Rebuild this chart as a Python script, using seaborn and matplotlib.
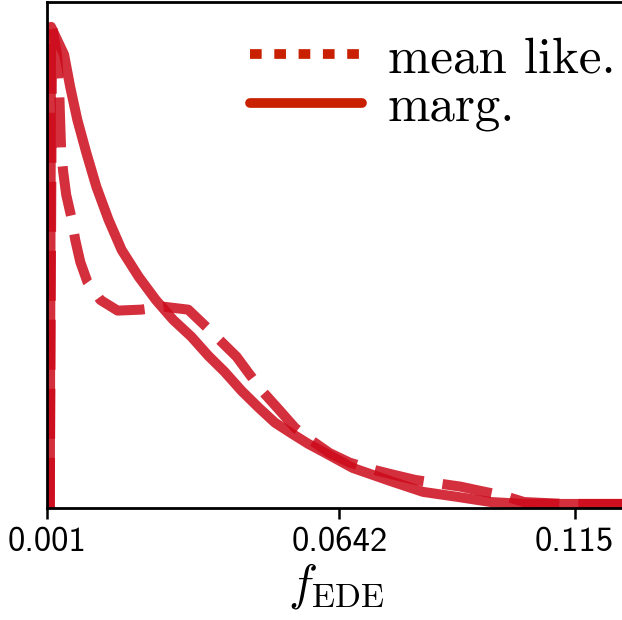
import numpy as np
import pandas as pd
import matplotlib
matplotlib.use("Agg")
import matplotlib.pyplot as plt
from matplotlib.lines import Line2D
import seaborn as sns

# ---- data (normalised to peak = 1) ----
marg_x = [0.0016, 0.00187, 0.00318, 0.00470, 0.00601, 0.00754, 0.00950, 0.01168,
          0.01429, 0.01713, 0.02083, 0.02453, 0.02824, 0.03216, 0.03587, 0.03935,
          0.04306, 0.04676, 0.05025, 0.05395, 0.05744, 0.06114, 0.06703, 0.07509,
          0.08228, 0.08947, 0.09688, 0.10407, 0.11126, 0.11867, 0.12586]
marg_y = [0.0, 1.0, 0.973, 0.942, 0.875, 0.807, 0.738, 0.667,
          0.599, 0.536, 0.480, 0.432, 0.391, 0.356, 0.316, 0.283,
          0.243, 0.208, 0.177, 0.154, 0.133, 0.114, 0.083, 0.056,
          0.033, 0.023, 0.012, 0.008, 0.008, 0.008, 0.008]

like_x = [0.0016, 0.00209, 0.00318, 0.00361, 0.00383, 0.00405, 0.00449, 0.00514,
          0.00623, 0.00710, 0.00819, 0.00972, 0.01255, 0.01625, 0.02127, 0.02628,
          0.03151, 0.03543, 0.03870, 0.04197, 0.04480, 0.04785, 0.05112, 0.05461,
          0.05831, 0.06202, 0.06637, 0.07073, 0.07574, 0.08054, 0.08599, 0.09034,
          0.09470, 0.09971, 0.10407, 0.11279, 0.12586]
like_y = [0.0, 1.0, 0.942, 0.875, 0.807, 0.744, 0.699, 0.651,
          0.605, 0.557, 0.511, 0.470, 0.432, 0.410, 0.412, 0.418,
          0.412, 0.376, 0.345, 0.314, 0.277, 0.239, 0.204, 0.166,
          0.139, 0.114, 0.094, 0.081, 0.069, 0.058, 0.050, 0.044,
          0.035, 0.025, 0.012, 0.008, 0.008]

xticks = [0.001, 0.0642, 0.115]
xtick_labels = ["0.001", "0.0642", "0.115"]
legend_labels = ["mean like.", "marg."]

line_color = "#cc0a1a"
legend_color = "#c82000"

sns.set_style("white")
plt.rcParams["mathtext.fontset"] = "cm"
plt.rcParams["text.color"] = "black"

fig = plt.figure(figsize=(6.22, 6.20), dpi=100)
ax = fig.add_axes([0.0756, 0.181, 0.93, 0.816])

df_marg = pd.DataFrame({"x": marg_x, "y": marg_y})
df_like = pd.DataFrame({"x": like_x, "y": like_y})

sns.lineplot(data=df_like, x="x", y="y", ax=ax, color=line_color, lw=7.2,
             alpha=0.85, dashes=False, sort=False, estimator=None,
             linestyle=(0, (5.0, 1.9)), dash_capstyle="butt")
sns.lineplot(data=df_marg, x="x", y="y", ax=ax, color=line_color, lw=7.2,
             alpha=0.85, sort=False, estimator=None, solid_joinstyle="round")

ax.set_xlim(0.001, 0.126)
ax.set_ylim(0, 1.052)
ax.set_yticks([])
ax.set_xticks(xticks)
ax.set_xticklabels(xtick_labels, fontfamily="cmss10", fontsize=25, color="black")
ax.tick_params(axis="x", direction="out", length=8, width=1.8, pad=6, bottom=True,
               colors="black")
ax.set_ylabel("")
ax.set_xlabel(r"$f_{\rm EDE}$", fontsize=35, labelpad=2, color="black")

for side in ["left", "bottom", "top"]:
    ax.spines[side].set_linewidth(2)
    ax.spines[side].set_color("black")
ax.spines["right"].set_visible(False)

handles = [
    Line2D([0], [0], color=legend_color, lw=7, linestyle=(0, (1.2, 1.3))),
    Line2D([0], [0], color=legend_color, lw=7, linestyle="-"),
]
leg = ax.legend(handles, legend_labels, loc="upper right", frameon=False,
                prop={"family": "cmr10", "size": 36.7}, handlelength=2.2,
                handletextpad=0.5, labelspacing=0.05, borderaxespad=0.2,
                bbox_to_anchor=(1.035, 0.992))
for t in leg.get_texts():
    t.set_color("black")

fig.savefig("out.png", dpi=100)
